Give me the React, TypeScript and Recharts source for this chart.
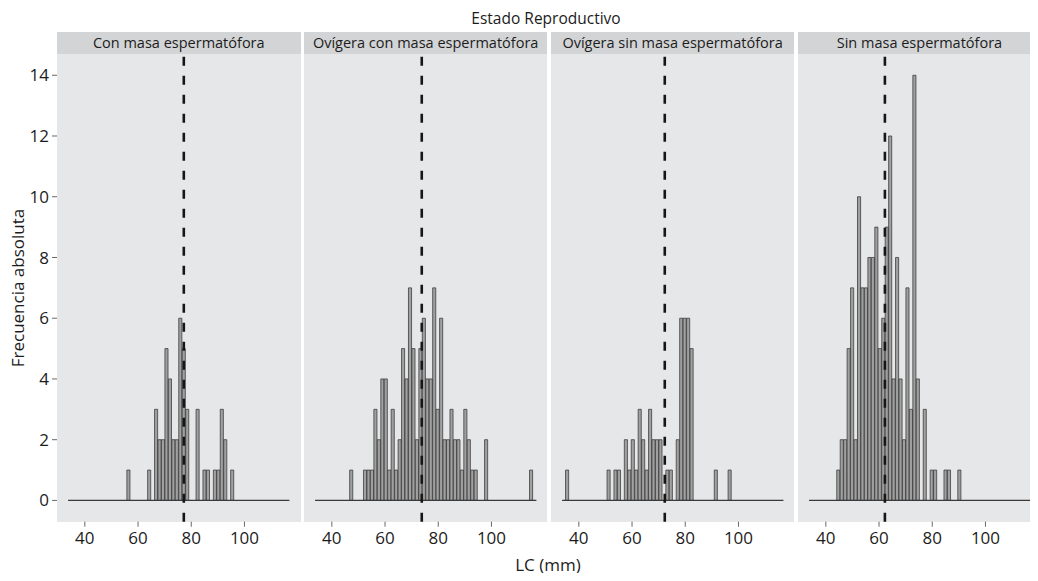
import React from 'react';
import { BarChart, Bar, XAxis, YAxis, ReferenceLine } from 'recharts';

// histogram bins shared by all facets
const binStart = 33.7;
const binWidth = 1.3;
const binCount = 64;

const xTicks = [40, 60, 80, 100];
const yTicks = [0, 2, 4, 6, 8, 10, 12, 14];

const panelTitles = [
  'Con masa espermatófora',
  'Ovígera con masa espermatófora',
  'Ovígera sin masa espermatófora',
  'Sin masa espermatófora',
];

// counts per bin (64 bins)
const conMasa = [
  0, 0, 0, 0, 0, 0, 0, 0, 0, 0,
  0, 0, 0, 0, 0, 0, 0, 1, 0, 0,
  0, 0, 0, 1, 0, 3, 2, 2, 5, 4,
  2, 2, 6, 5, 3, 0, 0, 3, 0, 1,
  1, 0, 1, 1, 3, 2, 0, 1, 0, 0,
  0, 0, 0, 0, 0, 0, 0, 0, 0, 0,
  0, 0, 0, 0,
];
const ovigeraCon = [
  0, 0, 0, 0, 0, 0, 0, 0, 0, 0,
  1, 0, 0, 0, 1, 1, 1, 3, 2, 4,
  4, 1, 3, 1, 2, 5, 4, 7, 5, 2,
  5, 6, 4, 4, 7, 3, 6, 2, 2, 3,
  2, 2, 1, 3, 2, 1, 1, 0, 0, 2,
  0, 0, 0, 0, 0, 0, 0, 0, 0, 0,
  0, 0, 1, 0,
];
const ovigeraSin = [
  0, 1, 0, 0, 0, 0, 0, 0, 0, 0,
  0, 0, 0, 1, 0, 1, 1, 0, 2, 1,
  2, 1, 3, 2, 1, 3, 2, 2, 2, 0,
  1, 1, 0, 2, 6, 6, 6, 5, 0, 0,
  0, 0, 0, 0, 1, 0, 0, 0, 1, 0,
  0, 0, 0, 0, 0, 0, 0, 0, 0, 0,
  0, 0, 0, 0,
];
const sinMasa = [
  0, 0, 0, 0, 0, 0, 0, 0, 1, 2,
  2, 5, 7, 2, 10, 7, 7, 8, 8, 9,
  5, 6, 9, 12, 4, 8, 4, 2, 7, 3,
  14, 4, 0, 3, 0, 1, 1, 0, 0, 1,
  1, 0, 0, 1, 0, 0, 0, 0, 0, 0,
  0, 0, 0, 0, 0, 0, 0, 0, 0, 0,
  0, 0, 0, 0,
];
const panelCounts = [conMasa, ovigeraCon, ovigeraSin, sinMasa];

// mean LC per facet (dashed line)
const means = [77.2, 73.8, 72.3, 62.2];

// layout
const PANEL_LEFT = 57;
const PANEL_PITCH = 246.9;
const PANEL_W = 243.5;
const STRIP_TOP = 32;
const STRIP_H = 22;
const PLOT_TOP = 54;
const PLOT_H = 467.7;
const AXIS_H = 32;
const Y_AXIS_W = 57;

const binEnd = binStart + binCount * binWidth;
const span = binEnd - binStart;
const xDomain = [binStart - span * 0.05, binEnd + span * 0.05];
const binPx = (PANEL_W / (span * 1.1)) * binWidth;

const FONT = '"Open Sans", sans-serif';
const TEXT = '#1c1c1c';

function Panel({ idx }: { idx: number }) {
  const first = idx === 0;
  const data = panelCounts[idx].map((count, i) => ({
    mid: binStart + (i + 0.5) * binWidth,
    count,
  }));
  const left = PANEL_LEFT + idx * PANEL_PITCH - (first ? Y_AXIS_W : 0);
  return (
    <div style={{ position: 'absolute', left, top: PLOT_TOP }}>
      <BarChart
        width={PANEL_W + (first ? Y_AXIS_W : 0)}
        height={PLOT_H + AXIS_H}
        data={data}
        margin={{ top: 0, right: 0, bottom: 0, left: 0 }}
        barCategoryGap={0}
        barGap={0}
      >
        <XAxis
          dataKey="mid"
          type="number"
          domain={xDomain}
          allowDataOverflow
          ticks={xTicks}
          height={AXIS_H}
          axisLine={false}
          tickSize={5}
          tickMargin={5}
          tickLine={{ stroke: '#666' }}
          tick={{ fill: TEXT, fontSize: 17, fontFamily: FONT }}
        />
        <YAxis
          hide={!first}
          width={Y_AXIS_W}
          domain={[-0.7, 14.7]}
          allowDataOverflow
          ticks={yTicks}
          axisLine={false}
          tickSize={5}
          tickMargin={3}
          tickLine={{ stroke: '#666' }}
          tick={{ fill: TEXT, fontSize: 17, fontFamily: FONT }}
        />
        <Bar
          dataKey="count"
          barSize={binPx}
          fill="#a0a0a0"
          stroke="#2e2e2e"
          strokeWidth={0.7}
          isAnimationActive={false}
        />
        <ReferenceLine
          segment={[{ x: binStart, y: 0 }, { x: binEnd, y: 0 }]}
          stroke="#3a3a3a"
          strokeWidth={1.3}
        />
        <ReferenceLine
          x={means[idx]}
          stroke="#161616"
          strokeWidth={2.6}
          strokeDasharray="9 10"
        />
      </BarChart>
    </div>
  );
}

export default function App() {
  return (
    <div
      style={{
        position: 'relative',
        width: 1038,
        height: 581,
        margin: -8,
        overflow: 'hidden',
        background: '#fff',
        fontFamily: FONT,
        color: TEXT,
      }}
    >
      <div style={{ position: 'absolute', left: 0, width: 1092, top: 7, textAlign: 'center', fontSize: 15.5 }}>
        Estado Reproductivo
      </div>
      {panelTitles.map((t, i) => (
        <React.Fragment key={t}>
          <div
            style={{
              position: 'absolute',
              left: PANEL_LEFT + i * PANEL_PITCH,
              top: STRIP_TOP,
              width: PANEL_W,
              height: STRIP_H,
              background: '#d3d4d6',
              fontSize: 14.5,
              lineHeight: `${STRIP_H}px`,
              textAlign: 'center',
              whiteSpace: 'nowrap',
            }}
          >
            {t}
          </div>
          <div
            style={{
              position: 'absolute',
              left: PANEL_LEFT + i * PANEL_PITCH,
              top: PLOT_TOP,
              width: PANEL_W,
              height: PLOT_H,
              background: '#e6e7e8',
            }}
          />
        </React.Fragment>
      ))}
      {[0, 1, 2, 3].map((i) => (
        <Panel key={i} idx={i} />
      ))}
      <div style={{ position: 'absolute', left: 0, width: 1096, top: 553, textAlign: 'center', fontSize: 17 }}>
        LC (mm)
      </div>
      <div
        style={{
          position: 'absolute',
          left: 17,
          top: 288,
          fontSize: 17,
          whiteSpace: 'nowrap',
          transform: 'translate(-50%, -50%) rotate(-90deg)',
        }}
      >
        Frecuencia absoluta
      </div>
    </div>
  );
}
